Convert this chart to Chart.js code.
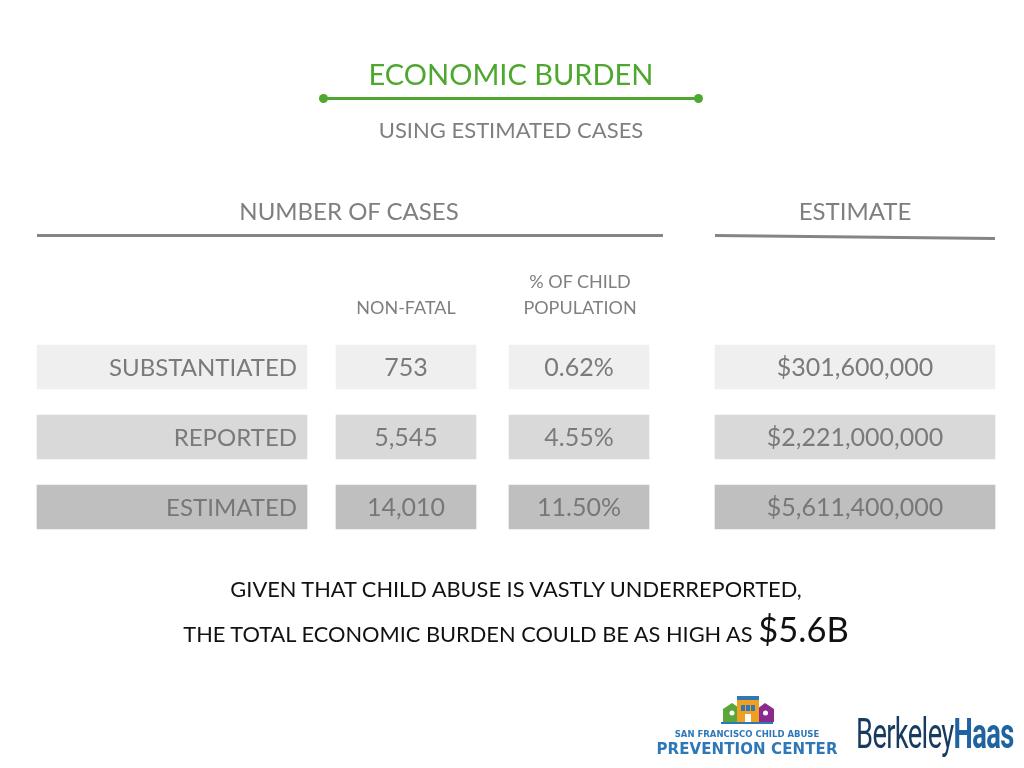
<!DOCTYPE html>
<html>
<head>
<meta charset="utf-8">
<title>Economic Burden</title>
<script src="https://cdn.jsdelivr.net/npm/chart.js@4.4.1/dist/chart.umd.min.js"></script>
<style>
  html, body { margin: 0; padding: 0; background: #fff; }
  body { width: 1024px; height: 768px; position: relative; overflow: hidden; font-family: Lato, 'Open Sans', sans-serif; }
  #grafico { position: absolute; left: 0; top: 0; }
  .txt { position: absolute; transform: translate(-50%, -50%); white-space: nowrap; line-height: 1; }
  .cinza { color: #7f7f7f; }
  .linha { position: absolute; height: 3px; background: #858585; }
  .verde { color: #4ea72e; }
  .ponto { position: absolute; width: 9px; height: 9px; border-radius: 50%; background: #4ea72e; top: -3px; }
  .logo-sf { position: absolute; left: 650px; top: 694px; width: 194px; text-align: center; color: #2f78b7; font-family: 'DejaVu Sans', sans-serif; font-weight: bold; line-height: 1; }
  .logo-bh { position: absolute; left: 856px; top: 712px; font-family: Roboto, sans-serif; font-size: 43px; line-height: 1; letter-spacing: -1px; transform: scaleX(0.635); transform-origin: left top; white-space: nowrap; }
</style>
</head>
<body>
<canvas id="grafico" width="1024" height="768"></canvas>

<div class="txt verde" style="left:511px; top:73px; font-size:29px;">ECONOMIC BURDEN</div>
<div class="linha" style="left:323px; top:97px; width:376px; background:#4ea72e;">
  <div class="ponto" style="left:-4px;"></div>
  <div class="ponto" style="right:-4px;"></div>
</div>
<div class="txt cinza" style="left:511px; top:130px; font-size:22px;">USING ESTIMATED CASES</div>

<div class="txt cinza" style="left:349px; top:211px; font-size:24px;">NUMBER OF CASES</div>
<div class="linha" style="left:37px; top:234px; width:626px;"></div>
<div class="txt cinza" style="left:855px; top:211px; font-size:24px;">ESTIMATE</div>
<div class="linha" style="left:715px; top:234px; width:280px; transform:rotate(0.6deg); transform-origin:left center;"></div>

<div class="txt cinza" style="left:580px; top:281px; font-size:18px;">% OF CHILD</div>
<div class="txt cinza" style="left:580px; top:307px; font-size:18px;">POPULATION</div>
<div class="txt cinza" style="left:406px; top:307px; font-size:18px;">NON-FATAL</div>

<div class="txt" style="left:516px; top:589px; font-size:21.8px; color:#111;">GIVEN THAT CHILD ABUSE IS VASTLY UNDERREPORTED,</div>
<div class="txt" style="left:516px; top:629px; font-size:21.8px; color:#111;">THE TOTAL ECONOMIC BURDEN COULD BE AS HIGH AS <span style="font-size:34.5px;">$5.6B</span></div>

<div class="logo-sf">
  <svg width="60" height="30" viewBox="0 0 60 30" style="display:block; margin:0 auto;">
    <rect x="4" y="28" width="52" height="2" fill="#2f78b7"/>
    <polygon points="6,28 6,15 15,9 24,15 24,28" fill="#5aa63a"/>
    <polygon points="40,28 40,15 48,9 57,15 57,28" fill="#8b2a8e"/>
    <rect x="20" y="2" width="22" height="26" fill="#f0a020"/>
    <rect x="20" y="2" width="22" height="4" fill="#2f78b7"/>
    <rect x="24" y="11" width="4" height="6" fill="#2f78b7"/>
    <rect x="29" y="11" width="4" height="6" fill="#2f78b7"/>
    <rect x="34" y="11" width="4" height="6" fill="#2f78b7"/>
    <rect x="28" y="20" width="6" height="8" fill="#fff"/>
    <circle cx="15" cy="19" r="2.5" fill="#fff"/>
    <circle cx="48.5" cy="19" r="2.5" fill="#fff"/>
  </svg>
  <div style="font-size:8.5px; margin-top:6px; letter-spacing:0px;">SAN FRANCISCO CHILD ABUSE</div>
  <div style="font-size:15px; margin-top:3px; letter-spacing:0.1px;">PREVENTION CENTER</div>
</div>
<div class="logo-bh"><span style="color:#173a5e;">Berkeley</span><span style="color:#1f63a0; font-weight:bold;">Haas</span></div>

<script>
// dados da tabela
const categorias = ['SUBSTANTIATED', 'REPORTED', 'ESTIMATED'];
const naoFatais = [753, 5545, 14010];
const pctPopulacao = [0.62, 4.55, 11.50];
const estimativas = [301600000, 2221000000, 5611400000];

// layout das colunas (posição em px no eixo x)
const colunas = [[37, 307], [336, 476], [509, 649], [715, 995]];
const coresLinha = ['#efefef', '#d9d9d9', '#bfbfbf'];
const coresTexto = ['#7a7a7a', '#7a7a7a', '#777777'];

const textosColunas = [
  categorias,
  naoFatais.map(v => v.toLocaleString('en-US')),
  pctPopulacao.map(v => v.toFixed(2) + '%'),
  estimativas.map(v => '$' + v.toLocaleString('en-US'))
];

const datasets = colunas.map((c, i) => ({
  label: 'col' + i,
  data: categorias.map(() => [c[0], c[1]]),
  backgroundColor: coresLinha,
  grouped: false,
  barThickness: 44,
  borderWidth: 0
}));

const textoCelulas = {
  id: 'textoCelulas',
  afterDatasetsDraw(chart) {
    const ctx = chart.ctx;
    ctx.save();
    ctx.textBaseline = 'middle';
    chart.data.datasets.forEach((ds, i) => {
      const meta = chart.getDatasetMeta(i);
      meta.data.forEach((bar, j) => {
        const esq = Math.min(bar.x, bar.base);
        const dir = Math.max(bar.x, bar.base);
        ctx.fillStyle = coresTexto[j];
        if (i === 0) {
          ctx.font = '24px Lato, sans-serif';
          ctx.textAlign = 'right';
          ctx.fillText(textosColunas[i][j], dir - 10, bar.y + 1);
        } else {
          ctx.font = '25px Lato, sans-serif';
          ctx.textAlign = 'center';
          ctx.fillText(textosColunas[i][j], (esq + dir) / 2, bar.y + 1);
        }
      });
    });
    ctx.restore();
  }
};

new Chart(document.getElementById('grafico'), {
  type: 'bar',
  data: { labels: categorias, datasets },
  options: {
    indexAxis: 'y',
    responsive: false,
    animation: false,
    layout: { padding: { top: 332, bottom: 226, left: 0, right: 0 } },
    plugins: { legend: { display: false }, tooltip: { enabled: false } },
    scales: {
      x: { type: 'linear', min: 0, max: 1024, display: false },
      y: { display: false }
    }
  },
  plugins: [textoCelulas]
});
</script>
</body>
</html>
